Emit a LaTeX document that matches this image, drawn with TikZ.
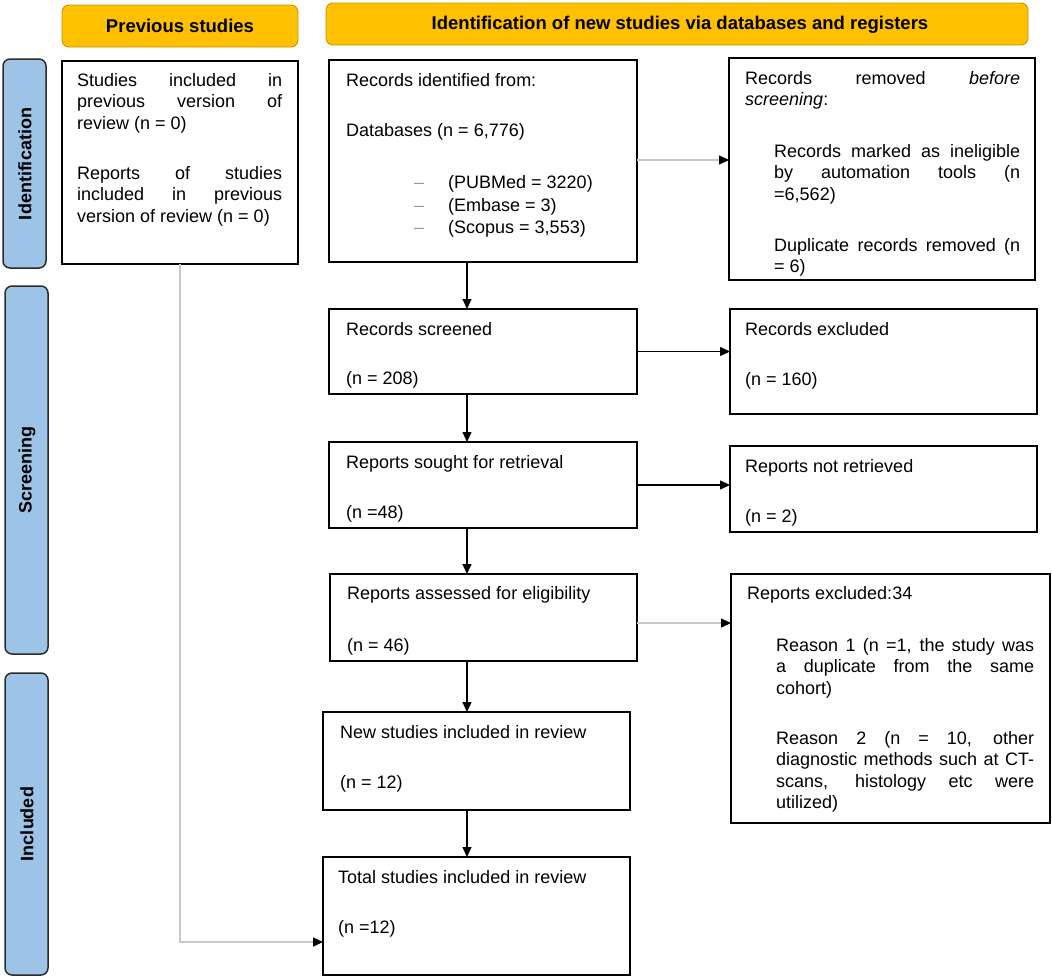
\documentclass[tikz,border=0pt]{standalone}
\usepackage{fontspec}
\setmainfont{Liberation Sans}
\usetikzlibrary{arrows.meta}
\definecolor{hdrfill}{HTML}{FFC000}
\definecolor{hdrdraw}{HTML}{C99700}
\definecolor{barfill}{HTML}{9DC3E6}
\definecolor{bardraw}{HTML}{2B2B2B}
\definecolor{lgrey}{HTML}{C8C8C8}
\definecolor{dashgrey}{HTML}{9A9A9A}
\hyphenpenalty=10000
\exhyphenpenalty=10000
\tolerance=10000
\hbadness=10000
\hfuzz=20pt
\tikzset{
  txtfont/.style={font=\fontsize{18}{21.4}\selectfont},
  box/.style={draw, line width=1.3pt, rectangle, anchor=north west, inner sep=0pt, outer sep=0pt},
  hdr/.style={draw=hdrdraw, fill=hdrfill, line width=0.9pt, rounded corners=7pt},
  bar/.style={draw=bardraw, fill=barfill, line width=1.5pt, rounded corners=7pt},
  hdrtxt/.style={font=\fontsize{18.5}{21}\selectfont\bfseries, inner sep=0pt},
  bartxt/.style={font=\fontsize{18}{21}\selectfont\bfseries, inner sep=0pt, rotate=90},
  line/.style={txtfont, anchor=base west, inner sep=0pt},
  para/.style={txtfont, anchor=north west, inner sep=0pt, align=justify, text width=#1},
  arr/.style={line width=1.3pt, -{Triangle[length=10pt,width=9pt]}},
  garr/.style={line width=1.3pt, draw=lgrey, -{Triangle[length=10pt,width=9pt,color=black]}},
}
\begin{document}
\begin{tikzpicture}[x=1pt,y=-1pt]
\useasboundingbox (0,0) rectangle (1052,977);

% headers
\draw[hdr] (62,5) rectangle (298,47);
\node[hdrtxt] (h1) at (180,26) {Previous studies};
\draw[hdr] (326,3) rectangle (1028,45);
\node[hdrtxt] (h2) at (680,25) {Identification of new studies via databases and registers};

% side bars
\draw[bar] (3,59) rectangle (46,268);
\node[bartxt] (b1) at (25,164) {Identification};
\draw[bar] (5,286) rectangle (48,654);
\node[bartxt] (b2) at (27,470) {Screening};
\draw[bar] (5,673) rectangle (48,975);
\node[bartxt] (b3) at (27,824) {Included};

% boxes
\node[box, minimum width=236pt, minimum height=203pt] (prev) at (62,61) {};
\node[box, minimum width=308pt, minimum height=202pt] (recid) at (329,60) {};
\node[box, minimum width=306pt, minimum height=222pt] (recrem) at (729,58) {};
\node[box, minimum width=308pt, minimum height=85pt] (recscr) at (329,309) {};
\node[box, minimum width=307pt, minimum height=105pt] (recexc) at (730,309) {};
\node[box, minimum width=308pt, minimum height=86pt] (sought) at (329,442) {};
\node[box, minimum width=307pt, minimum height=86pt] (notret) at (730,446) {};
\node[box, minimum width=307pt, minimum height=87pt] (assess) at (330,574) {};
\node[box, minimum width=319pt, minimum height=249pt] (repexc) at (731,574) {};
\node[box, minimum width=307pt, minimum height=98pt] (newst) at (323,712) {};
\node[box, minimum width=307pt, minimum height=118pt] (total) at (323,857) {};

% texts: previous
\node[para=205pt] (tp1) at (77,73) {Studies included in\linebreak previous version of\linebreak review (n = 0)};
\node[para=205pt] (tp2) at (77,166) {Reports of studies\linebreak included in previous\linebreak \mbox{version of review (n = 0)}};

% records identified
\node[line] (ti1) at (346,86) {Records identified from:};
\node[line] (ti2) at (346,136) {Databases (n = 6,776)};
\node[line] (td1) at (414,188) {\textcolor{dashgrey}{–}};
\node[line] (td2) at (414,211) {\textcolor{dashgrey}{–}};
\node[line] (td3) at (414,233) {\textcolor{dashgrey}{–}};
\node[line] (ti3) at (448,188) {(PUBMed = 3220)};
\node[line] (ti4) at (448,211) {(Embase = 3)};
\node[line] (ti5) at (448,233) {(Scopus = 3,553)};

% records removed
\node[para=275pt] (tr1) at (745,71) {Records removed \emph{before}\linebreak \emph{screening}:};
\node[para=246pt] (tr2) at (774,144) {Records marked as ineligible\linebreak by automation tools (n\linebreak =6,562)};
\node[para=246pt] (tr3) at (774,238) {Duplicate records removed (n\linebreak = 6)};

% screening
\node[line] (ts1) at (346,335) {Records screened};
\node[line] (ts2) at (346,384) {(n = 208)};
\node[line] (te1) at (745,335) {Records excluded};
\node[line] (te2) at (745,385) {(n = 160)};
\node[line] (tg1) at (346,468) {Reports sought for retrieval};
\node[line] (tg2) at (346,518) {(n =48)};
\node[line] (tn1) at (745,472) {Reports not retrieved};
\node[line] (tn2) at (745,522) {(n = 2)};
\node[line] (ta1) at (347,599) {Reports assessed for eligibility};
\node[line] (ta2) at (347,651) {(n = 46)};
\node[line] (tx1) at (747,599) {Reports excluded:34};
\node[para=258pt] (tx2) at (776,638) {Reason 1 (n =1, the study was\linebreak a duplicate from the same\linebreak cohort)};
\node[para=258pt] (tx3) at (776,731) {Reason 2 (n = 10, other\linebreak diagnostic methods such at CT-\linebreak scans, histology etc were\linebreak utilized)};

% included
\node[line] (tw1) at (340,738) {New studies included in review};
\node[line] (tw2) at (340,788) {(n = 12)};
\node[line] (tt1) at (338,883) {Total studies included in review};
\node[line] (tt2) at (338,933) {(n =12)};

% helper coordinates
\coordinate (ax) at (467,0);
\coordinate (hy1) at (0,160);
\coordinate (hy4) at (0,623);
\coordinate (ty) at (0,942);

% connectors
\draw[arr] (recid.south -| ax) -- (recscr.north -| ax);
\draw[arr] (recscr.south -| ax) -- (sought.north -| ax);
\draw[arr] (sought.south -| ax) -- (assess.north -| ax);
\draw[arr] (assess.south -| ax) -- (newst.north -| ax);
\draw[arr] (newst.south -| ax) -- (total.north -| ax);
\draw[garr] (recid.east |- hy1) -- (recrem.west |- hy1);
\draw[arr] (recscr.east) -- (recexc.west |- recscr.east);
\draw[arr] (sought.east) -- (notret.west |- sought.east);
\draw[garr] (assess.east |- hy4) -- (repexc.west |- hy4);
\draw[garr] (prev.south) |- (total.west |- ty);
\end{tikzpicture}
\end{document}
